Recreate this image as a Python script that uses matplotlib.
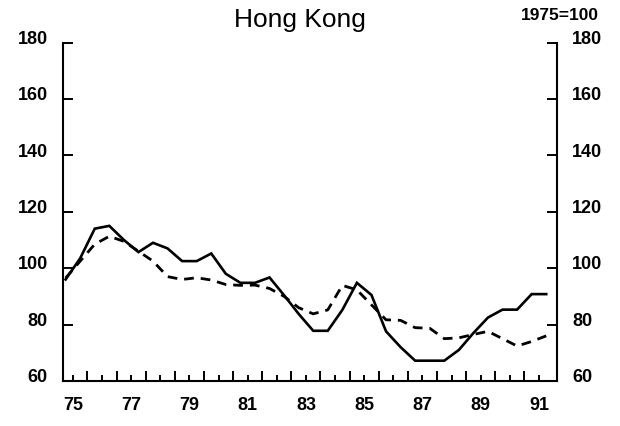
import numpy as np
import matplotlib
matplotlib.use("Agg")
import matplotlib.pyplot as plt
from matplotlib.transforms import ScaledTranslation

plt.rcParams['font.family'] = ['Liberation Sans', 'DejaVu Sans']

# half-yearly points, 1975 H1 .. 1991 H2 (x = year label +/- a quarter)
periods = np.arange(74.75, 91.5, 0.5)
solid = [96, 103.5, 114, 115, 110, 105.7, 109, 107, 102.5, 102.5,
         105.2, 98, 94.8, 94.8, 96.7, 90.4, 83.8, 77.8, 77.8, 85.2,
         94.8, 90.5, 77.6, 72, 67.2, 67.2, 67.2, 71, 77, 82.5,
         85.3, 85.3, 90.8, 90.8]
dashed = [96.5, 102.5, 108.5, 111.3, 109.5, 106, 102.5, 97, 96, 96.6,
          95.8, 94.2, 93.9, 94, 92.8, 90, 86, 83.8, 85.2, 93.9,
          92.3, 87, 81.7, 81.5, 78.9, 78.7, 75, 75.3, 76.5, 77.6,
          75, 72.4, 74, 76]
year_ticks = list(range(75, 92))
year_labels = [str(y) if y % 2 == 1 else '' for y in year_ticks]
y_ticks = [60, 80, 100, 120, 140, 160, 180]

fig = plt.figure(figsize=(6.2, 4.27), dpi=100)
ax = fig.add_axes([0.1016, 0.1054, 0.7968, 0.7927])

ax.plot(periods, solid, color='black', lw=1.9, solid_joinstyle='miter')
ax.plot(periods, dashed, color='black', lw=2.0, linestyle=(0, (3.5, 2.5)))

ax.set_xlim(74.66, 91.62)
ax.set_ylim(60, 180)

for s in ['left', 'right', 'bottom']:
    ax.spines[s].set_linewidth(1.5)
ax.spines['top'].set_visible(False)

# x axis: short ticks at year labels, tall ticks at year boundaries
ax.set_xticks(year_ticks)
ax.set_xticklabels(year_labels)
ax.set_xticks(np.arange(75.5, 91.0, 1.0), minor=True)
ax.tick_params(axis='x', which='major', direction='in', length=4.5, width=1.4,
               pad=11, labelsize=13)
ax.tick_params(axis='x', which='minor', direction='in', length=7, width=1.4)

ax.set_yticks(y_ticks)
ax.tick_params(axis='y', which='major', direction='in', length=7, width=1.4,
               left=True, right=True, labelleft=True, labelright=True,
               pad=11, labelsize=13)

for lab in ax.get_xticklabels() + ax.get_yticklabels():
    lab.set_fontweight('bold')

# the scanned labels sit a bit above their ticks (both sides)
shift = ScaledTranslation(0, 4.5 / 72, fig.dpi_scale_trans)
for t in ax.yaxis.get_major_ticks():
    t.label1.set_transform(t.label1.get_transform() + shift)
    t.label2.set_transform(t.label2.get_transform() + shift)

fig.text(0.484, 0.953, 'Hong Kong', ha='center', va='center', fontsize=19)
fig.text(0.903, 0.963, '1975=100', ha='center', va='center', fontsize=12.5,
         fontweight='bold')

fig.savefig('out.png', dpi=100)
